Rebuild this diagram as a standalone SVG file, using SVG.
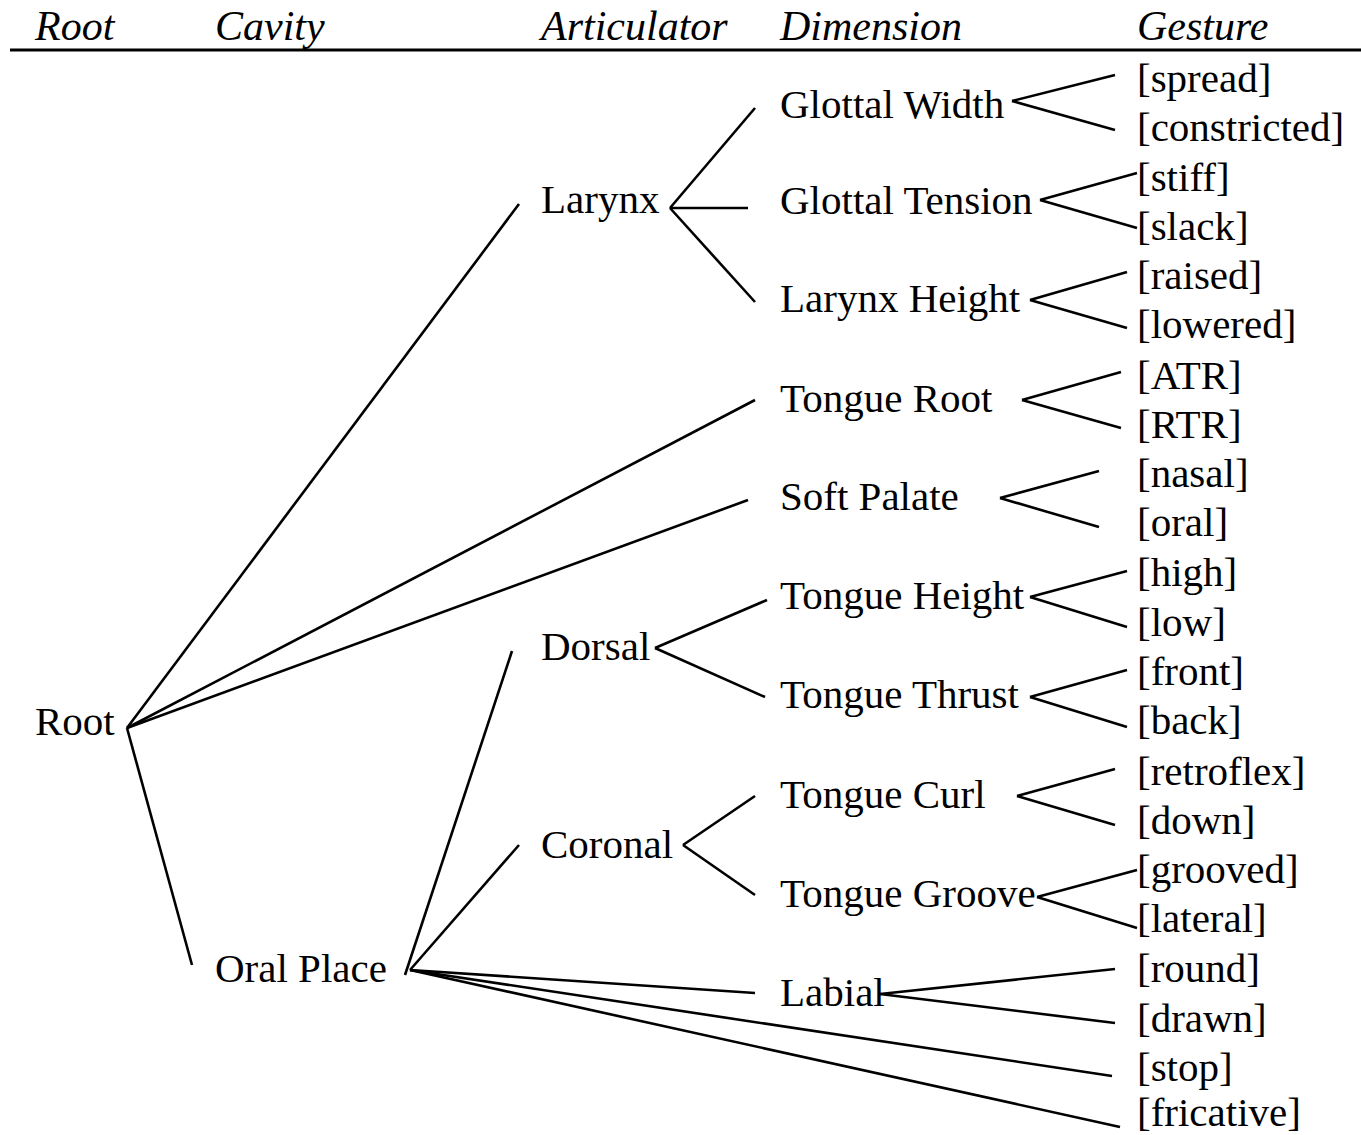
<svg xmlns="http://www.w3.org/2000/svg" width="1361" height="1135" viewBox="0 0 1361 1135">
<style>
text{font-family:"Liberation Serif","Times New Roman",serif;font-size:41px;fill:#000}
.h{font-style:italic;font-size:42px}
#edges line{stroke:#000;stroke-width:2.6;stroke-linecap:butt}
</style>
<rect width="1361" height="1135" fill="#fff"/>
<g id="header">
<text class="h" x="35" y="40">Root</text>
<text class="h" x="215" y="40">Cavity</text>
<text class="h" x="541" y="40">Articulator</text>
<text class="h" x="780" y="40">Dimension</text>
<text class="h" x="1137" y="40">Gesture</text>
<line x1="10" y1="50" x2="1361" y2="50" stroke="#000" stroke-width="3"/>
</g>
<g id="edges">
<line x1="127" y1="728" x2="519" y2="204"/>
<line x1="127" y1="728" x2="755" y2="400"/>
<line x1="127" y1="728" x2="748" y2="500"/>
<line x1="127" y1="728" x2="192" y2="965"/>
<line x1="405" y1="975" x2="512" y2="651"/>
<line x1="410" y1="970" x2="519" y2="845"/>
<line x1="410" y1="970" x2="755" y2="993"/>
<line x1="410" y1="970" x2="1112" y2="1076"/>
<line x1="410" y1="970" x2="1120" y2="1127"/>
<line x1="670" y1="208" x2="755" y2="108"/>
<line x1="670" y1="208" x2="748" y2="208"/>
<line x1="670" y1="208" x2="755" y2="302"/>
<line x1="655" y1="648" x2="767" y2="600"/>
<line x1="655" y1="648" x2="765" y2="697"/>
<line x1="683" y1="845" x2="755" y2="796"/>
<line x1="683" y1="845" x2="755" y2="895"/>
<line x1="1012" y1="101" x2="1115" y2="75"/>
<line x1="1012" y1="101" x2="1115" y2="130"/>
<line x1="1040" y1="200" x2="1137" y2="173"/>
<line x1="1040" y1="200" x2="1137" y2="228"/>
<line x1="1030" y1="300" x2="1127" y2="272"/>
<line x1="1030" y1="300" x2="1127" y2="328"/>
<line x1="1022" y1="400" x2="1121" y2="372"/>
<line x1="1022" y1="400" x2="1121" y2="428"/>
<line x1="1000" y1="498" x2="1099" y2="471"/>
<line x1="1000" y1="498" x2="1099" y2="527"/>
<line x1="1030" y1="597" x2="1127" y2="571"/>
<line x1="1030" y1="597" x2="1127" y2="627"/>
<line x1="1030" y1="697" x2="1127" y2="670"/>
<line x1="1030" y1="697" x2="1127" y2="727"/>
<line x1="1017" y1="796" x2="1115" y2="769"/>
<line x1="1017" y1="796" x2="1115" y2="825"/>
<line x1="1037" y1="897" x2="1137" y2="870"/>
<line x1="1037" y1="897" x2="1137" y2="928"/>
<line x1="880" y1="994" x2="1115" y2="969"/>
<line x1="880" y1="994" x2="1115" y2="1023"/>
</g>
<g id="n-root"><text x="35" y="735">Root</text></g>
<g id="n-oralplace"><text x="215" y="982">Oral Place</text></g>
<g id="n-larynx"><text x="541" y="213">Larynx</text></g>
<g id="n-dorsal"><text x="541" y="660">Dorsal</text></g>
<g id="n-coronal"><text x="541" y="858">Coronal</text></g>
<g id="n-glottalwidth"><text x="780" y="118">Glottal Width</text></g>
<g id="n-glottaltension"><text x="780" y="214">Glottal Tension</text></g>
<g id="n-larynxheight"><text x="780" y="312">Larynx Height</text></g>
<g id="n-tongueroot"><text x="780" y="412">Tongue Root</text></g>
<g id="n-softpalate"><text x="780" y="510">Soft Palate</text></g>
<g id="n-tongueheight"><text x="780" y="609">Tongue Height</text></g>
<g id="n-tonguethrust"><text x="780" y="708">Tongue Thrust</text></g>
<g id="n-tonguecurl"><text x="780" y="808">Tongue Curl</text></g>
<g id="n-tonguegroove"><text x="780" y="907">Tongue Groove</text></g>
<g id="n-labial"><text x="780" y="1006">Labial</text></g>
<g id="n-spread"><text x="1137" y="92">[spread]</text></g>
<g id="n-constricted"><text x="1137" y="141">[constricted]</text></g>
<g id="n-stiff"><text x="1137" y="191">[stiff]</text></g>
<g id="n-slack"><text x="1137" y="240">[slack]</text></g>
<g id="n-raised"><text x="1137" y="289">[raised]</text></g>
<g id="n-lowered"><text x="1137" y="338">[lowered]</text></g>
<g id="n-atr"><text x="1137" y="389">[ATR]</text></g>
<g id="n-rtr"><text x="1137" y="438">[RTR]</text></g>
<g id="n-nasal"><text x="1137" y="487">[nasal]</text></g>
<g id="n-oral"><text x="1137" y="536">[oral]</text></g>
<g id="n-high"><text x="1137" y="586">[high]</text></g>
<g id="n-low"><text x="1137" y="636">[low]</text></g>
<g id="n-front"><text x="1137" y="685">[front]</text></g>
<g id="n-back"><text x="1137" y="734">[back]</text></g>
<g id="n-retroflex"><text x="1137" y="785">[retroflex]</text></g>
<g id="n-down"><text x="1137" y="834">[down]</text></g>
<g id="n-grooved"><text x="1137" y="883">[grooved]</text></g>
<g id="n-lateral"><text x="1137" y="932">[lateral]</text></g>
<g id="n-round"><text x="1137" y="982">[round]</text></g>
<g id="n-drawn"><text x="1137" y="1032">[drawn]</text></g>
<g id="n-stop"><text x="1137" y="1081">[stop]</text></g>
<g id="n-fricative"><text x="1137" y="1126">[fricative]</text></g>
</svg>
